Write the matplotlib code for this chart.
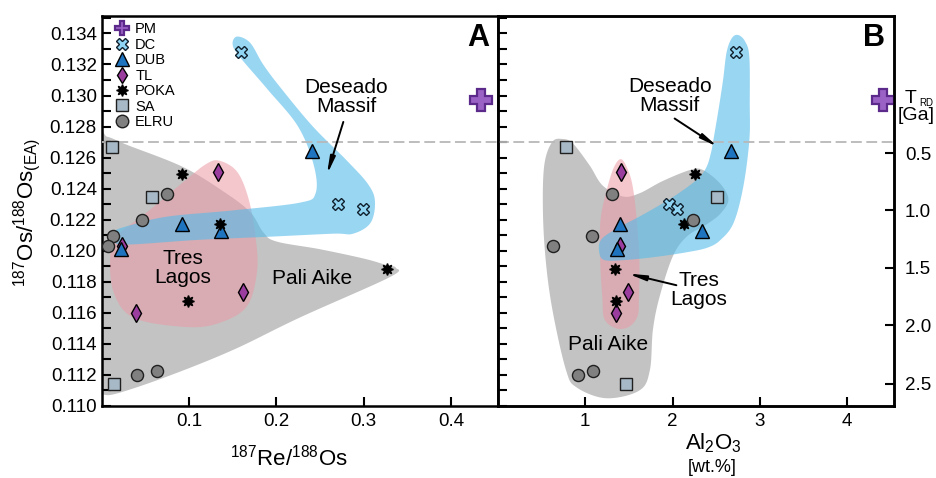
import numpy as np
import matplotlib
matplotlib.use('Agg')
import matplotlib.pyplot as plt
from matplotlib.lines import Line2D
from matplotlib.patches import Polygon
from matplotlib.ticker import MultipleLocator

plt.rcParams['font.family'] = ['Liberation Sans', 'DejaVu Sans']
plt.rcParams['mathtext.default'] = 'regular'

# ---------------- data ----------------
pm_reos = [0.4345]
pm_al = [4.41]
pm_os = [0.1297]

dc_reos = [0.160, 0.271, 0.299]
dc_al = [2.727, 1.961, 2.046]
dc_os = [0.1328, 0.1230, 0.1227]

dub_reos = [0.2405, 0.0916, 0.1363, 0.0218]
dub_al = [2.665, 1.393, 2.333, 1.363]
dub_os = [0.12645, 0.12175, 0.12125, 0.1201]

tl_reos = [0.1336, 0.0229, 0.0389, 0.1622]
tl_al = [1.404, 1.400, 1.347, 1.488]
tl_os = [0.12508, 0.12032, 0.11599, 0.11735]

poka_reos = [0.0916, 0.1355, 0.0992, 0.3272]
poka_al = [2.254, 2.127, 1.347, 1.336]
poka_os = [0.12493, 0.12175, 0.11675, 0.11885]

sa_reos = [0.0122, 0.0573, 0.0141]
sa_al = [0.781, 2.506, 1.470]
sa_os = [0.12669, 0.12347, 0.11144]

elru_reos = [0.0752, 0.0465, 0.0126, 0.0076, 0.0401, 0.0637]
elru_al = [1.309, 2.230, 1.075, 0.627, 0.914, 1.086]
elru_os = [0.12365, 0.12197, 0.12093, 0.12029, 0.11202, 0.11224]

trd_ticks = [0.5, 1.0, 1.5, 2.0, 2.5]
trd_labels = ['0.5', '1.0', '1.5', '2.0', '2.5']
os_pm_model = 0.1299
reos_pm_model = 0.434
lam = 0.01666  # 1/Ga

ea_line = 0.1270

# field outlines (Re/Os vs Os)
fieldA_pali = [(-0.01, 0.1273), (0.006, 0.12735), (0.03, 0.1268), (0.093, 0.1254), (0.14, 0.1238),
               (0.17, 0.1225), (0.185, 0.1212), (0.20, 0.1206), (0.25, 0.1201), (0.30, 0.1195),
               (0.325, 0.1191), (0.337, 0.1189), (0.33, 0.1183), (0.227, 0.1157), (0.15, 0.1136),
               (0.075, 0.1119), (0.017, 0.1108), (0.0, 0.11075), (-0.01, 0.1108)]
fieldA_tres = [(0.135, 0.1258), (0.155, 0.1251), (0.168, 0.1234), (0.176, 0.1210), (0.178, 0.1187),
               (0.166, 0.1164), (0.132, 0.1153), (0.0935, 0.1151), (0.036, 0.1157), (0.0133, 0.1174),
               (0.010, 0.1198), (0.018, 0.1210), (0.05, 0.1224), (0.095, 0.1245), (0.12, 0.1256)]
fieldA_des = [(0.155, 0.1338), (0.170, 0.1334), (0.185, 0.1320), (0.205, 0.1305), (0.242, 0.1280),
              (0.281, 0.1258), (0.305, 0.1243), (0.313, 0.1232), (0.308, 0.1218), (0.288, 0.1211),
              (0.265, 0.1211), (0.19, 0.1209), (0.11, 0.1207), (0.03, 0.1204), (0.014, 0.1206),
              (0.013, 0.1212), (0.03, 0.1216), (0.075, 0.1222), (0.15, 0.1226), (0.227, 0.1231),
              (0.245, 0.1237), (0.243, 0.1255), (0.225, 0.1280), (0.19, 0.1304), (0.158, 0.1325),
              (0.150, 0.1333)]
# field outlines (Al2O3 vs Os)
fieldB_pali = [(0.742, 0.1272), (0.86, 0.1269), (1.05, 0.1255), (1.20, 0.1242), (1.43, 0.1235),
               (1.62, 0.1237), (1.89, 0.1245), (2.2, 0.1252), (2.35, 0.1252), (2.55, 0.1243),
               (2.64, 0.1233), (2.55, 0.1224), (2.39, 0.1217), (2.16, 0.1209), (2.0, 0.1196),
               (1.85, 0.1170), (1.775, 0.1149), (1.74, 0.1123), (1.62, 0.1110), (1.24, 0.1105),
               (0.9, 0.1112), (0.78, 0.1123), (0.63, 0.1160), (0.55, 0.1192), (0.515, 0.1225),
               (0.53, 0.1255), (0.62, 0.1270)]
fieldB_tres = [(1.412, 0.1259), (1.49, 0.1252), (1.545, 0.1241), (1.59, 0.1220), (1.62, 0.1194),
               (1.615, 0.1170), (1.60, 0.1158), (1.50, 0.1151), (1.355, 0.1150), (1.22, 0.1156),
               (1.195, 0.1170), (1.17, 0.1195), (1.175, 0.1220), (1.25, 0.1240), (1.33, 0.1254)]
fieldB_des = [(2.751, 0.1339), (2.83, 0.1335), (2.88, 0.1325), (2.885, 0.1295), (2.88, 0.1271),
              (2.81, 0.1241), (2.70, 0.1218), (2.55, 0.1207), (2.40, 0.1202), (2.158, 0.1199),
              (1.80, 0.1196), (1.45, 0.1194), (1.22, 0.1194), (1.16, 0.1199), (1.18, 0.1207),
              (1.35, 0.1214), (1.62, 0.1222), (1.90, 0.1231), (2.12, 0.1239), (2.30, 0.1247),
              (2.39, 0.1254), (2.44, 0.1263), (2.47, 0.1272), (2.53, 0.1292), (2.579, 0.1310),
              (2.62, 0.1328), (2.68, 0.1337)]


def smooth_closed(pts, n=24):
    P = np.asarray(pts, dtype=float)
    N = len(P)
    out = []
    t = np.linspace(0, 1, n, endpoint=False)[:, None]
    for i in range(N):
        p0, p1, p2, p3 = P[(i - 1) % N], P[i], P[(i + 1) % N], P[(i + 2) % N]
        out.append(0.5 * ((2 * p1) + (-p0 + p2) * t + (2 * p0 - 5 * p1 + 4 * p2 - p3) * t ** 2
                          + (-p0 + 3 * p1 - 3 * p2 + p3) * t ** 3))
    return np.vstack(out)


GREY = '#b4b4b4'
PINK = '#eb9aa5'
BLUE = '#56bbea'

styles = {
    'PM': dict(marker='P', mfc='#9a62c4', mec='#5c2a8a', mew=1.6),
    'DC': dict(marker='X', mfc='#8fd4f2', mec='#10202c', mew=1.0),
    'DUB': dict(marker='^', mfc='#1f74c0', mec='black', mew=1.0),
    'TL': dict(marker='d', mfc='#9b3d9e', mec='black', mew=1.0),
    'POKA': dict(marker=(8, 1, 0), mfc='black', mec='black', mew=1.0),
    'SA': dict(marker='s', mfc='#a7b8c6', mec='#202020', mew=1.0),
    'ELRU': dict(marker='o', mfc='#808080', mec='#202020', mew=1.0),
}
sizes = {'PM': 16.5, 'DC': 9.0, 'DUB': 9.5, 'TL': 8.7, 'POKA': 8.5, 'SA': 9.2, 'ELRU': 8.7}
leg_sizes = {'PM': 10.5, 'DC': 9.0, 'DUB': 9.5, 'TL': 8.0, 'POKA': 8.5, 'SA': 9.0, 'ELRU': 9.0}

W, H = 936, 478
fig = plt.figure(figsize=(W / 100, H / 100), dpi=100)
x0A, x1A, x1B = 101.7, 498.0, 894.0
yb, yt = 406.0, 15.6
axA = fig.add_axes([x0A / W, 1 - yb / H, (x1A - x0A) / W, (yb - yt) / H])
axB = fig.add_axes([x1A / W, 1 - yb / H, (x1B - x1A) / W, (yb - yt) / H])

ylim = (0.110, 0.13515)

groupsA = [('PM', pm_reos, pm_os), ('DC', dc_reos, dc_os), ('DUB', dub_reos, dub_os),
           ('TL', tl_reos, tl_os), ('POKA', poka_reos, poka_os), ('SA', sa_reos, sa_os),
           ('ELRU', elru_reos, elru_os)]
groupsB = [('PM', pm_al, pm_os), ('DC', dc_al, dc_os), ('DUB', dub_al, dub_os),
           ('TL', tl_al, tl_os), ('POKA', poka_al, poka_os), ('SA', sa_al, sa_os),
           ('ELRU', elru_al, elru_os)]

for ax, fields, groups in [(axA, (fieldA_pali, fieldA_tres, fieldA_des), groupsA),
                           (axB, (fieldB_pali, fieldB_tres, fieldB_des), groupsB)]:
    for f, c, a, z in zip(fields, (GREY, PINK, BLUE), (0.8, 0.55, 0.6), (1, 2, 3)):
        ax.add_patch(Polygon(smooth_closed(f), closed=True, facecolor=c, edgecolor='none',
                             alpha=a, zorder=z))
    ax.axhline(ea_line, color='#b8b8b8', lw=1.3, ls=(0, (6, 2.5)), zorder=4)
    order = ['DC', 'TL', 'DUB', 'POKA', 'SA', 'ELRU', 'PM']
    gd = {g[0]: g for g in groups}
    for i, name in enumerate(order):
        _, xs, ys = gd[name]
        ax.plot(xs, ys, ls='none', ms=sizes[name], zorder=5 + i, **styles[name])
    ax.set_ylim(*ylim)
    for s in ax.spines.values():
        s.set_linewidth(1.8)
    ax.tick_params(direction='in', length=6.5, width=1.5, labelsize=13.5, top=False, right=False)
    ax.tick_params(which='minor', direction='in', length=6.5, width=1.5)

axA.set_xlim(0, 0.454)
axA.set_xticks([0.1, 0.2, 0.3, 0.4])
axA.set_xticklabels(['0.1', '0.2', '0.3', '0.4'])
axA.yaxis.set_major_locator(MultipleLocator(0.002))
axA.yaxis.set_minor_locator(MultipleLocator(0.001))
axA.yaxis.set_major_formatter(plt.FuncFormatter(lambda v, p: f'{v:.3f}'))
axA.tick_params(axis='y', pad=3.5)
axA.tick_params(axis='x', pad=5)

axB.set_xlim(0, 4.538)
axB.set_xticks([1, 2, 3, 4])
axB.set_xticklabels(['1', '2', '3', '4'])
axB.yaxis.set_major_locator(MultipleLocator(0.001))
axB.tick_params(axis='y', labelleft=False)
axB.tick_params(axis='x', pad=5)

axR = axB.twinx()
axR.set_ylim(*ylim)
trd_pos = [os_pm_model - reos_pm_model * (np.exp(lam * t) - 1) for t in trd_ticks]
axR.set_yticks(trd_pos)
axR.set_yticklabels(trd_labels)
axR.tick_params(direction='in', length=6.5, width=1.5, labelsize=13.5, pad=8)
for s in axR.spines.values():
    s.set_linewidth(1.8)

# field labels
axA.text(0.280, 0.12989, 'Deseado\nMassif', fontsize=15, ha='center', va='center', linespacing=1.0, zorder=20)
axA.annotate('', xy=(0.258, 0.1249), xytext=(0.2768, 0.1283),
             arrowprops=dict(arrowstyle='-|>,head_length=1.0,head_width=0.15', color='black', lw=1.4,
                             shrinkA=0, shrinkB=0), zorder=20)
axA.text(0.093, 0.11886, 'Tres\nLagos', fontsize=15, ha='center', va='center', linespacing=1.0, zorder=20)
axA.text(0.241, 0.11822, 'Pali Aike', fontsize=15, ha='center', va='center', zorder=20)
axA.text(0.95, 0.943, 'A', transform=axA.transAxes, fontsize=22, fontweight='bold', ha='center', va='center')

axB.text(1.967, 0.1300, 'Deseado\nMassif', fontsize=15, ha='center', va='center', linespacing=1.0, zorder=20)
axB.annotate('', xy=(2.521, 0.12669), xytext=(2.024, 0.12852),
             arrowprops=dict(arrowstyle='-|>,head_length=1.0,head_width=0.15', color='black', lw=1.4,
                             shrinkA=0, shrinkB=0), zorder=20)
axB.text(2.30, 0.11745, 'Tres\nLagos', fontsize=15, ha='center', va='center', linespacing=1.0, zorder=20)
axB.annotate('', xy=(1.488, 0.11853), xytext=(2.044, 0.11778),
             arrowprops=dict(arrowstyle='-|>,head_length=1.0,head_width=0.15', color='black', lw=1.4,
                             shrinkA=0, shrinkB=0), zorder=20)
axB.text(1.267, 0.11397, 'Pali Aike', fontsize=15, ha='center', va='center', zorder=20)
axB.text(0.949, 0.943, 'B', transform=axB.transAxes, fontsize=22, fontweight='bold', ha='center', va='center')

# legend
names = ['PM', 'DC', 'DUB', 'TL', 'POKA', 'SA', 'ELRU']
handles = [Line2D([], [], ls='none', ms=leg_sizes[n], **styles[n]) for n in names]
leg = axA.legend(handles, names, loc='upper left', bbox_to_anchor=(0.033, 0.983), frameon=False,
                 borderaxespad=0, borderpad=0, handlelength=1.0, handletextpad=0.4,
                 labelspacing=0.1, fontsize=10.5)
leg.set_zorder(30)

# axis labels
fig.text(289 / W, 1 - 458 / H, '$^{187}$Re/$^{188}$Os', fontsize=16, ha='center', va='center')
fig.text(713 / W, 1 - 443 / H, 'Al$_2$O$_3$', fontsize=16, ha='center', va='center')
fig.text(712 / W, 1 - 467 / H, '[wt.%]', fontsize=13, ha='center', va='center')
fig.text(27 / W, 1 - 212 / H, '$^{187}$Os/$^{188}$Os$_{(EA)}$', fontsize=16, ha='center', va='center',
         rotation=90)
fig.text(905 / W, 1 - 98.5 / H, 'T', fontsize=14, ha='left', va='center')
fig.text(919 / W, 1 - 103 / H, 'RD', fontsize=7, ha='left', va='center')
fig.text(898 / W, 1 - 115 / H, '[Ga]', fontsize=14, ha='left', va='center')

fig.savefig('out.png', dpi=100)
